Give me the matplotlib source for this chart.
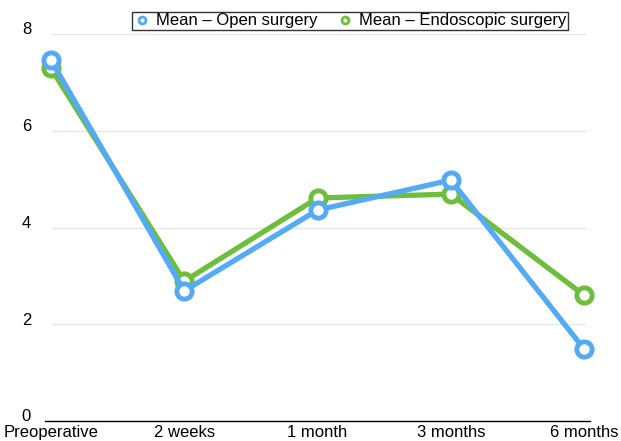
import matplotlib
matplotlib.use("Agg")
import matplotlib.pyplot as plt
import matplotlib.transforms as mtransforms
from matplotlib.lines import Line2D

categories = ["Preoperative", "2 weeks", "1 month", "3 months", "6 months"]
open_mean = [7.46, 2.69, 4.36, 4.98, 1.49]
endo_mean = [7.29, 2.89, 4.61, 4.69, 2.60]
yticks = [0, 2, 4, 6, 8]

plt.rcParams['font.family'] = ['Liberation Sans', 'DejaVu Sans']

blue = "#55AAF5"
green = "#6DBE3C"
fs = 12.0

fig = plt.figure(figsize=(6.21, 4.41), dpi=100)
ax = fig.add_axes([45/621, 1-421/441, (590-45)/621, (421-34)/441])

x = list(range(len(categories)))
ax.plot(x, endo_mean, color=green, lw=3.8, marker='o', ms=11, mfc='white',
        mec=green, mew=3.5, clip_on=False, zorder=3, solid_joinstyle='round')
ax.plot(x, open_mean, color=blue, lw=3.8, marker='o', ms=11, mfc='white',
        mec=blue, mew=3.5, clip_on=False, zorder=4, solid_joinstyle='round')

ax.set_xlim(-0.045, 4.045)
ax.set_ylim(0, 8)
ax.set_yticks(yticks)
ax.set_xticks(x)
ax.set_xticklabels(categories, fontsize=fs)
ax.tick_params(axis='both', length=0, labelsize=fs)
ax.tick_params(axis='x', pad=3)
ax.tick_params(axis='y', pad=10)
offset = mtransforms.ScaledTranslation(0, 4/72, fig.dpi_scale_trans)
for lab in ax.get_yticklabels():
    lab.set_transform(lab.get_transform() + offset)
for s in ['top', 'right', 'left']:
    ax.spines[s].set_visible(False)
ax.spines['bottom'].set_color('black')
ax.spines['bottom'].set_linewidth(1.0)
for yv in yticks[1:]:
    ax.axhline(yv, xmin=(52-45)/545, xmax=(585-45)/545, color='#e6e6e6', lw=1, zorder=0)

handles = [Line2D([], [], ls='none', marker='o', ms=5, mfc='white', mec=blue, mew=2),
           Line2D([], [], ls='none', marker='o', ms=5, mfc='white', mec=green, mew=2)]
leg = fig.legend(handles, ["Mean – Open surgery", "Mean – Endoscopic surgery"],
                 loc='center', bbox_to_anchor=(350/621, 1-21/441), ncol=2,
                 fontsize=fs, frameon=True, fancybox=False, borderpad=0.1,
                 handletextpad=0.3, columnspacing=1.2, handlelength=1.0,
                 borderaxespad=0)
leg.get_frame().set_edgecolor('black')
leg.get_frame().set_linewidth(1.0)

fig.savefig("out.png", dpi=100)
